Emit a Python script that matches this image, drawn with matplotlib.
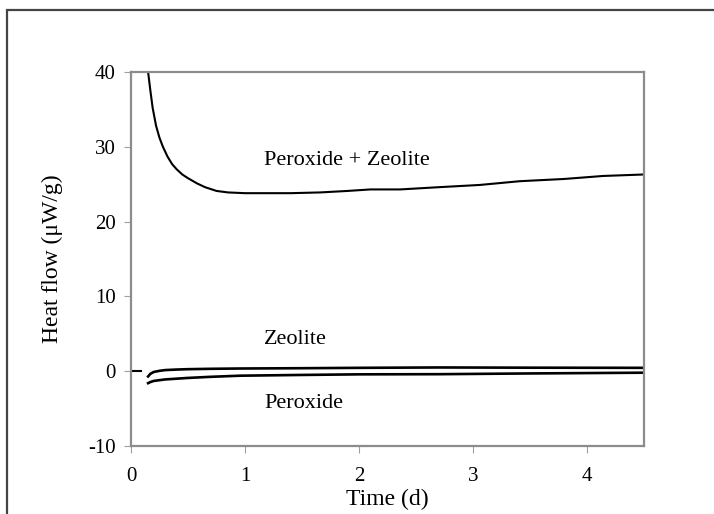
import matplotlib
matplotlib.use("Agg")
import matplotlib.pyplot as plt
from matplotlib.patches import Rectangle

# heat flow curves (time in days, heat flow in uW/g)
t_pz = [0.15, 0.17, 0.19, 0.22, 0.25, 0.28, 0.32, 0.36, 0.40, 0.45, 0.50, 0.58,
        0.65, 0.75, 0.85, 1.0, 1.2, 1.4, 1.66, 1.9, 2.1, 2.36, 2.7, 3.06, 3.41,
        3.8, 4.14, 4.5]
y_pz = [40.0, 37.5, 35.2, 32.8, 31.2, 30.0, 28.7, 27.7, 27.0, 26.3, 25.8, 25.1,
        24.6, 24.1, 23.9, 23.8, 23.8, 23.8, 23.9, 24.1, 24.3, 24.3, 24.6, 24.9,
        25.4, 25.7, 26.1, 26.3]

t_zeo = [0.15, 0.17, 0.2, 0.25, 0.3, 0.4, 0.5, 0.7, 0.96, 1.5, 2.0, 2.7, 3.5, 4.5]
y_zeo = [-0.7, -0.35, -0.1, 0.05, 0.15, 0.22, 0.27, 0.32, 0.36, 0.4, 0.45, 0.5, 0.47, 0.45]

t_per = [0.15, 0.17, 0.2, 0.25, 0.3, 0.4, 0.5, 0.7, 0.96, 1.5, 2.0, 2.7, 3.5, 4.5]
y_per = [-1.6, -1.45, -1.3, -1.2, -1.1, -1.0, -0.9, -0.75, -0.6, -0.5, -0.42, -0.4, -0.3, -0.2]

t_base = [0.0, 0.09]
y_base = [0.0, 0.0]

xticks = [0, 1, 2, 3, 4]
yticks = [-10, 0, 10, 20, 30, 40]

plt.rcParams['font.family'] = ['Liberation Serif', 'DejaVu Serif']
plt.rcParams['axes.unicode_minus'] = False

fig = plt.figure(figsize=(7.14, 5.14), dpi=100)
ax = fig.add_axes([131 / 714, 68 / 514, 513 / 714, 374 / 514])

ax.plot(t_pz, y_pz, color='black', lw=1.5)
ax.plot(t_zeo, y_zeo, color='black', lw=1.9)
ax.plot(t_per, y_per, color='black', lw=1.9)
ax.plot(t_base, y_base, color='black', lw=1.5)

ax.set_xlim(0, 4.5)
ax.set_ylim(-10, 40)
ax.set_xticks(xticks)
ax.set_yticks(yticks)
ax.tick_params(axis='x', direction='out', length=5, color='#a0a0a0', pad=10, labelsize=15)
ax.tick_params(axis='y', direction='out', length=5, color='#a0a0a0', pad=6, labelsize=15)
for s in ax.spines.values():
    s.set_color('#8c8c8c')
    s.set_linewidth(1.6)

ax.set_xlabel('Time (d)', fontsize=17, labelpad=2)
ax.set_ylabel('Heat flow (\u03bcW/g)', fontsize=17, labelpad=18)

ax.text(1.17, 28.2, 'Peroxide + Zeolite', fontsize=16, va='center')
ax.text(1.17, 4.3, 'Zeolite', fontsize=16, va='center')
ax.text(1.17, -4.3, 'Peroxide', fontsize=16, va='center')

# outer frame, cut off on the right and bottom like the source image
fig.patches.append(Rectangle((7 / 714, -0.1), 1.2, (514 - 10) / 514 + 0.1,
                             transform=fig.transFigure, fill=False,
                             edgecolor='#444444', lw=1.6))

fig.savefig('out.png', dpi=100)
